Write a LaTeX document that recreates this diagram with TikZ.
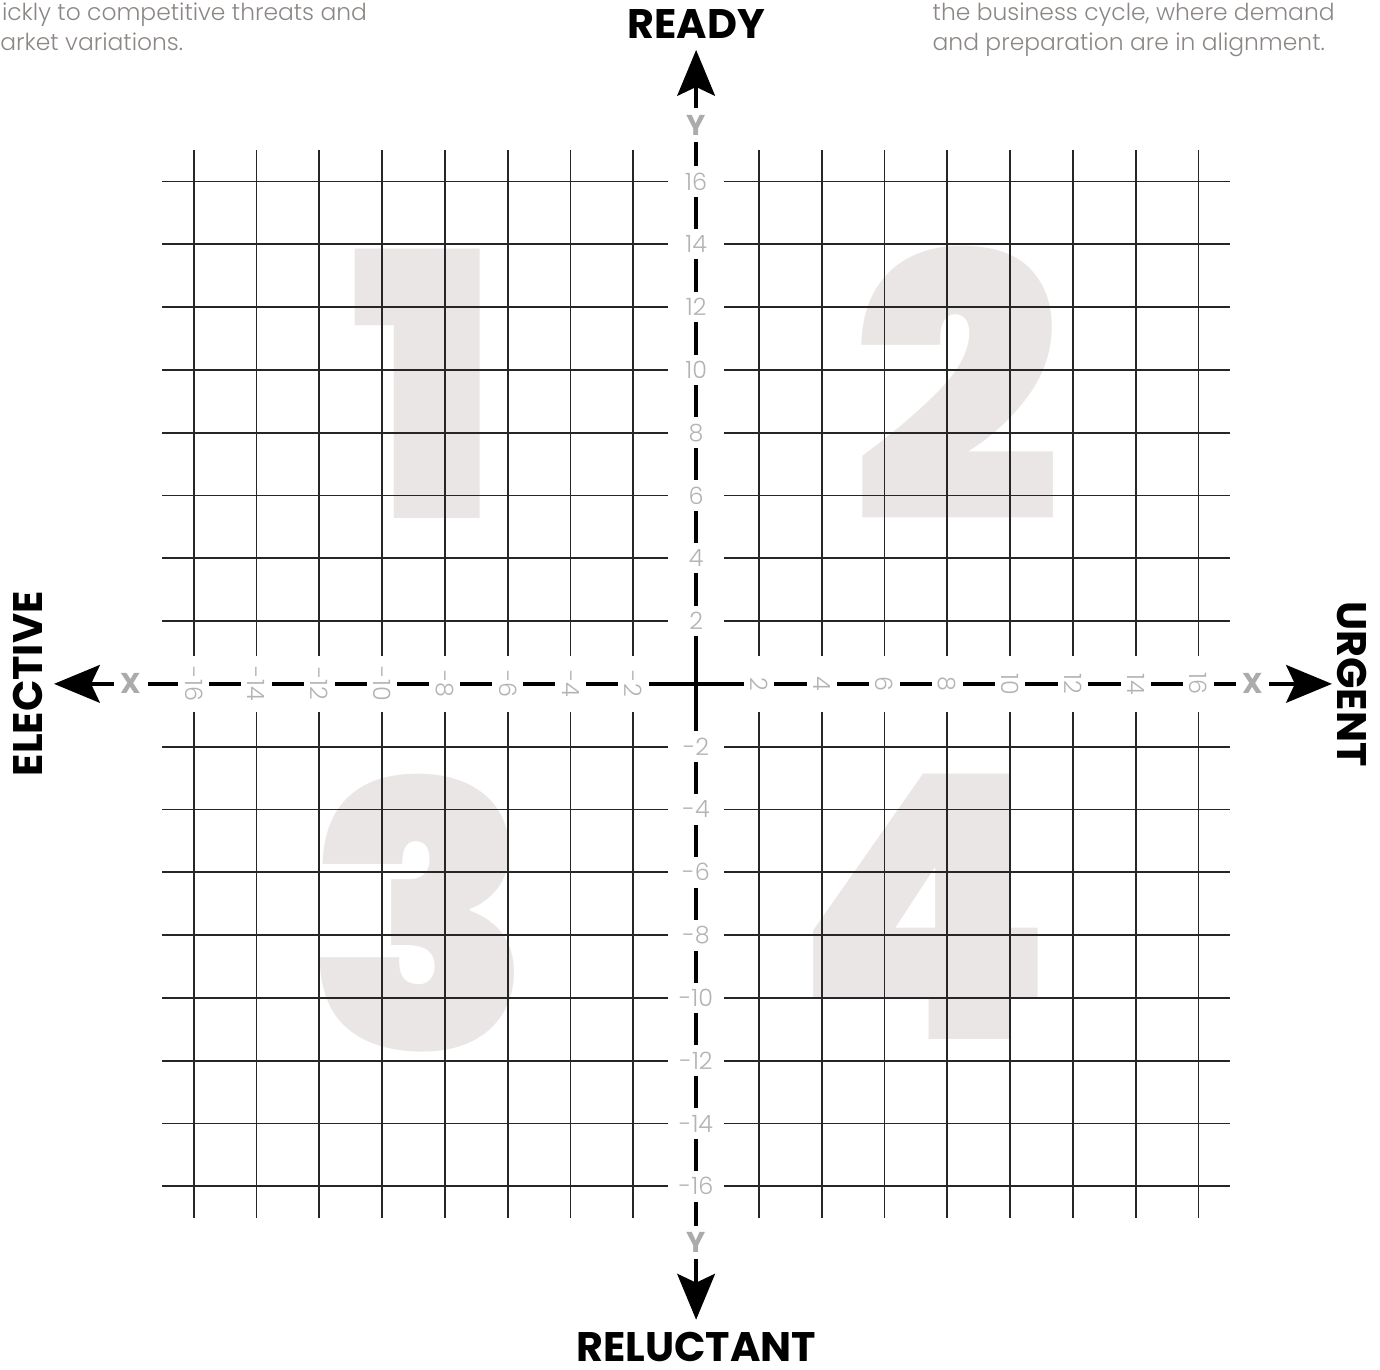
\documentclass[tikz,border=0pt]{standalone}
\usepackage{fontspec}
\setmainfont{Poppins Light}
\newfontfamily\headfont{Poppins Bold}
\newfontfamily\blackfont{Poppins Black}
\usetikzlibrary{arrows.meta}

\definecolor{tickgray}{HTML}{B3B3B3}
\definecolor{notegray}{HTML}{8C8784}
\definecolor{quadgray}{HTML}{E9E6E5}
\definecolor{xygray}{HTML}{ABABAB}

\tikzset{
  gridline/.style={black!85, line width=0.8pt},
  axisline/.style={line width=1.8pt,
    {Stealth[length=0.73cm,width=0.6cm,inset=0.14cm]}-{Stealth[length=0.73cm,width=0.6cm,inset=0.14cm]}},
  ticklbl/.style={fill=white, text=tickgray, inner sep=3pt, font=\fontsize{10.8}{12}\selectfont},
  xylbl/.style={fill=white, text=xygray, inner sep=3pt, font=\headfont\fontsize{13}{14}\selectfont},
  axisname/.style={inner sep=0pt, font=\headfont\fontsize{18.7}{21}\selectfont},
  quadnum/.style={text=quadgray, inner sep=0pt, font=\blackfont\fontsize{167}{167}\selectfont},
  blurb/.style={text=notegray, inner sep=0pt, anchor=base west, font=\fontsize{10.6}{13}\selectfont}
}

\begin{document}
\begin{tikzpicture}[scale=0.5]
\useasboundingbox (-22.17,-21.85) rectangle (21.78,21.78);

% big quadrant numbers
\node[quadnum] (q1) at (-8.62,9.55) {1};
\node[quadnum] (q2) at (8.31,9.55) {2};
\node[quadnum] (q3) at (-8.79,-7.29) {3};
\node[quadnum] (q4) at (7.26,-7.10) {4};

% grid
\foreach \v in {2,4,...,16}
{
\draw[gridline] (-17,\v) -- (-0.9,\v) (0.9,\v) -- (17,\v);
\draw[gridline] (-17,-\v) -- (-0.9,-\v) (0.9,-\v) -- (17,-\v);
\draw[gridline] (\v,-17) -- (\v,-0.9) (\v,0.9) -- (\v,17);
\draw[gridline] (-\v,-17) -- (-\v,-0.9) (-\v,0.9) -- (-\v,17);
}

% axes
\coordinate (xlo) at (-20.45,0);
\coordinate (xhi) at (20.25,0);
\coordinate (ylo) at (0,-20.25);
\coordinate (yhi) at (0,20.19);
\draw[axisline] (xlo) -- (xhi);
\draw[axisline] (ylo) -- (yhi);

\foreach \v in {2,4,...,16}
{
\node[ticklbl] (ty\v) at (0,\v) {\v};
\node[ticklbl] (tyn\v) at (0,-\v) {-\v};
\node[ticklbl, rotate=-90] (tx\v) at (\v,0) {\v};
\node[ticklbl, rotate=-90] (txn\v) at (-\v,0) {-\v};
}
\node[xylbl] (xleft) at (-17.99,0) {X};
\node[xylbl] (xright) at (17.72,0) {X};
\node[xylbl] (ytop) at (0,17.8) {Y};
\node[xylbl] (ybot) at (0,-17.8) {Y};

% axis names
\node[axisname] (ready) at (0,21.03) {READY};
\node[axisname] (reluctant) at (0,-21.12) {RELUCTANT};
\node[axisname, rotate=90] (elective) at (-21.29,0) {ELECTIVE};
\node[axisname, rotate=-90] (urgent) at (20.9,0) {URGENT};

% notes, cut at the page edge
\node[blurb] (lnote1) at (-22.12,21.13) {ickly to competitive threats and};
\node[blurb] (lnote2) at (-22.17,20.18) {arket variations.};
\node[blurb] (rnote1) at (7.52,21.13) {the business cycle, where demand};
\node[blurb] (rnote2) at (7.52,20.18) {and preparation are in alignment.};
\end{tikzpicture}
\end{document}
